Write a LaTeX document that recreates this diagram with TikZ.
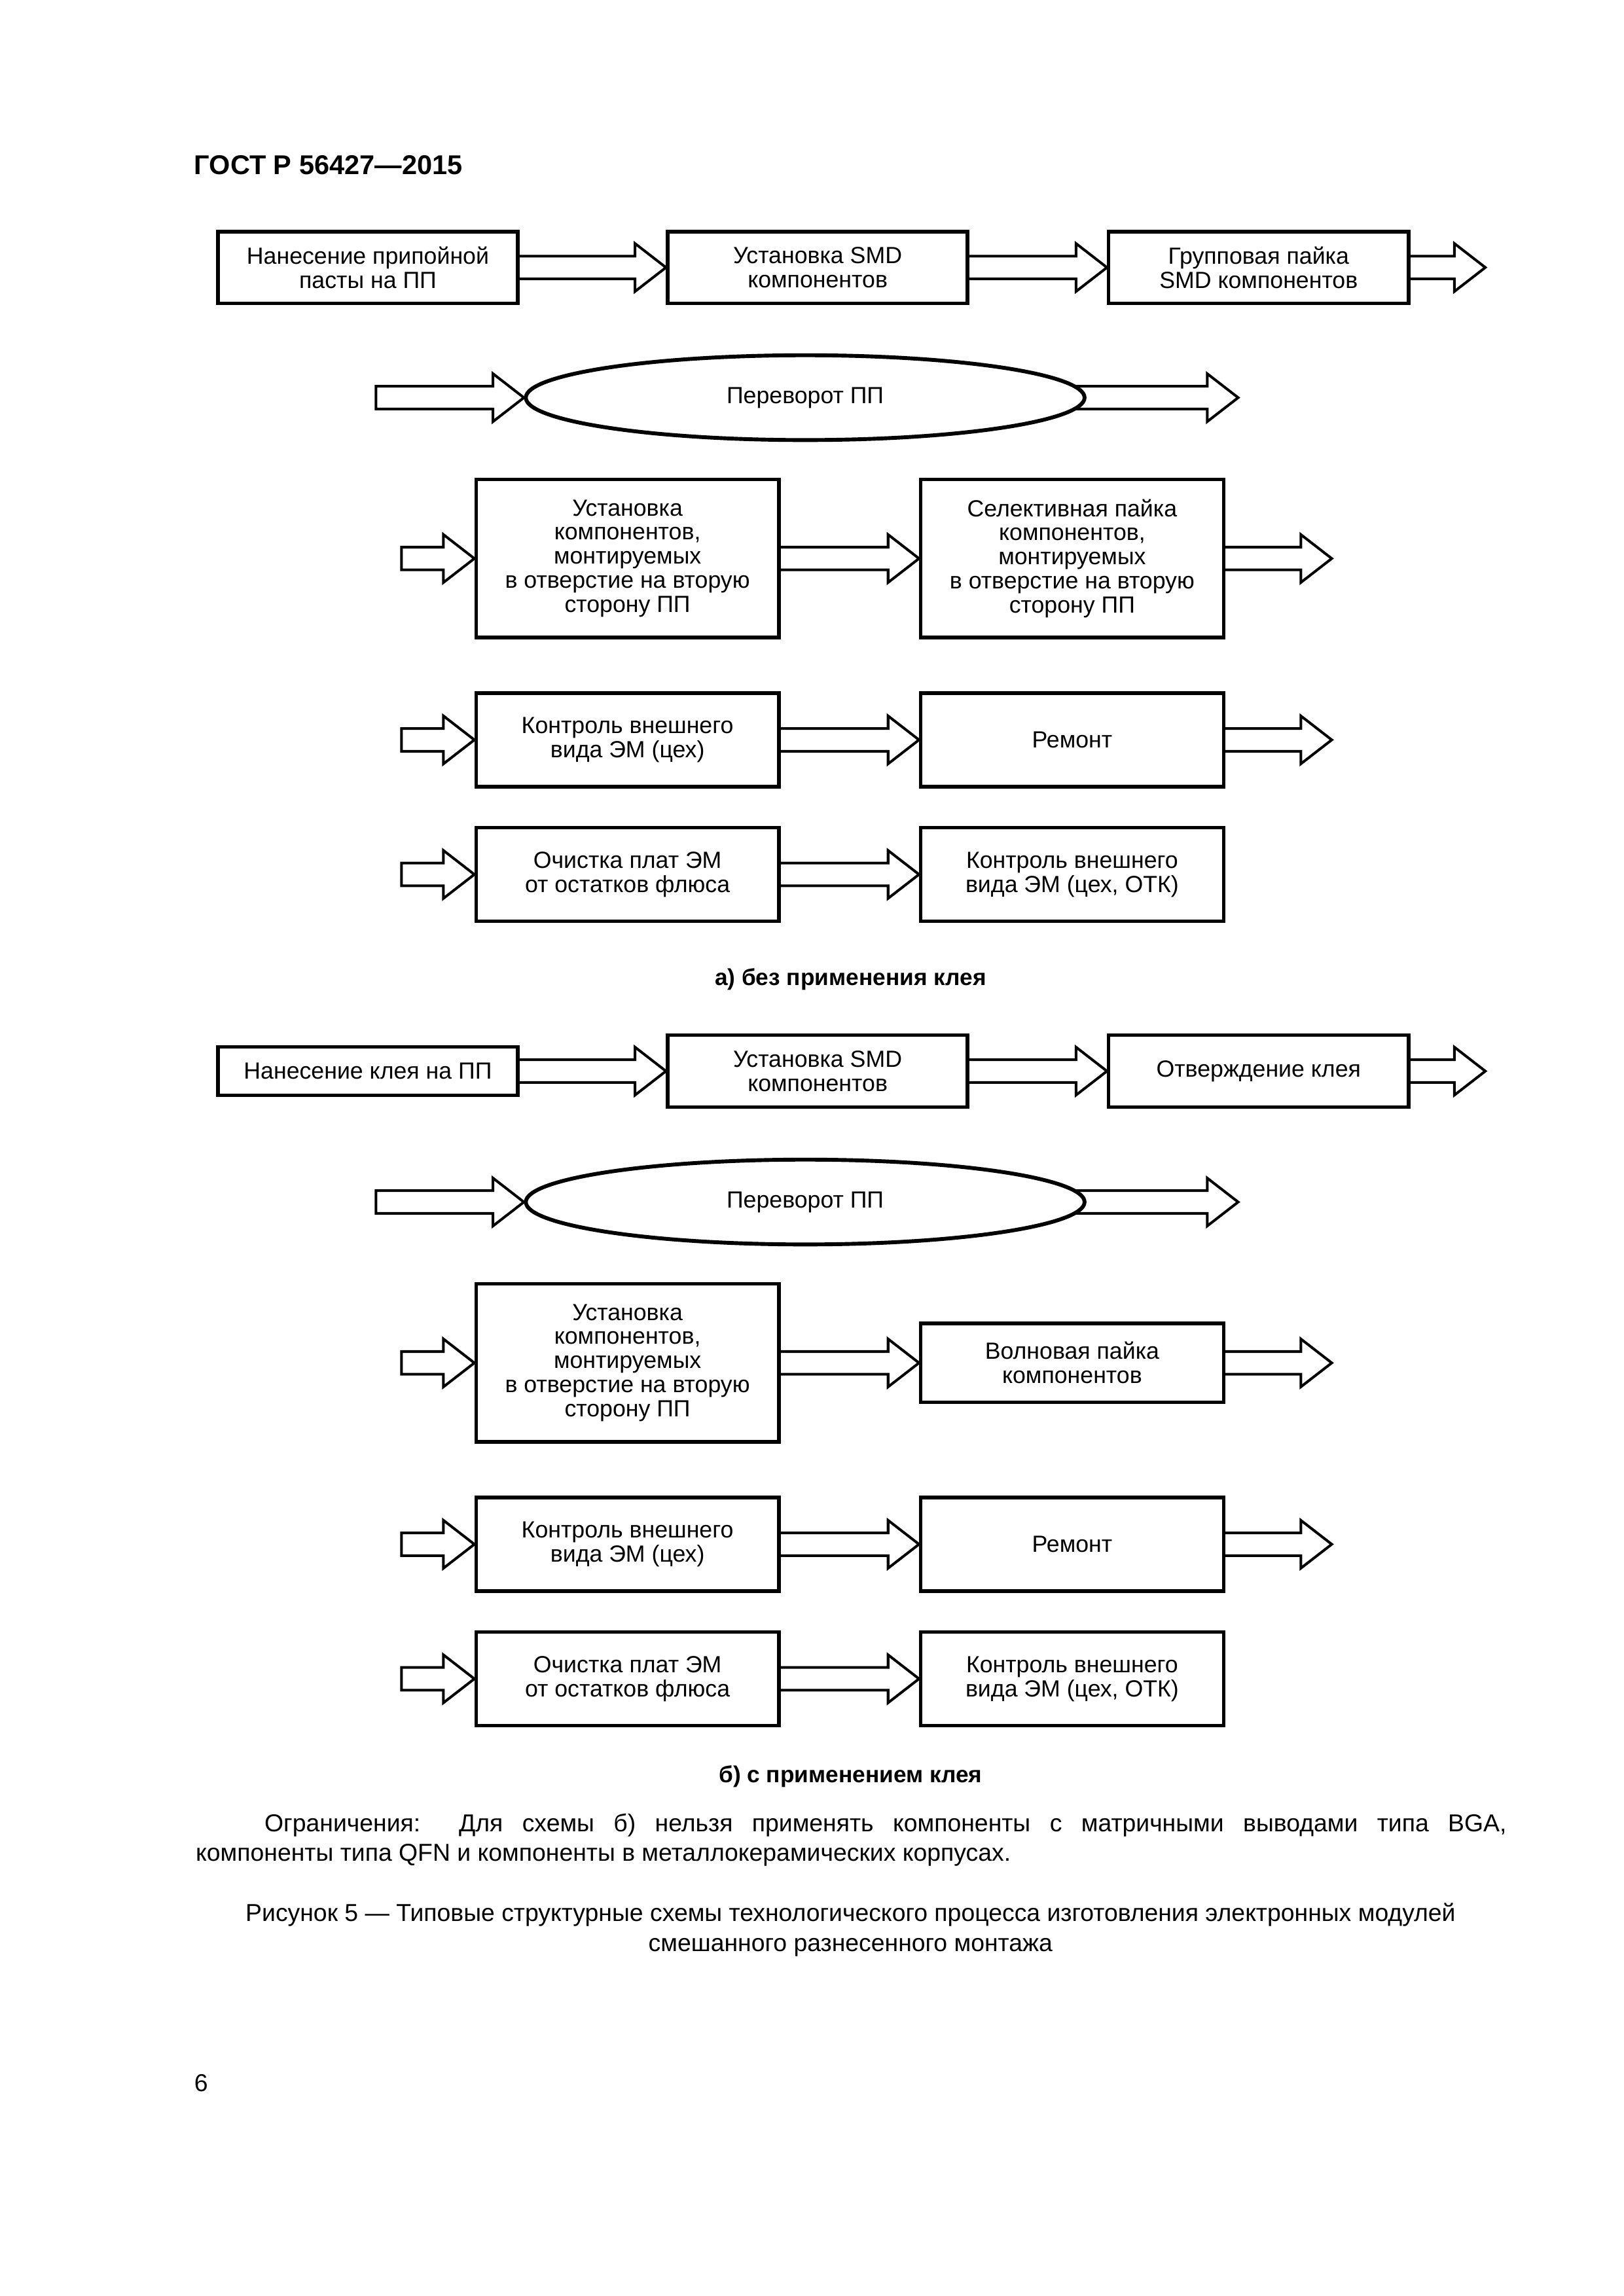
\documentclass[tikz,border=0pt]{standalone}
\usepackage{fontspec}
\setmainfont{Liberation Sans}
\usetikzlibrary{shapes.geometric,calc,backgrounds}
\newcommand{\boxfont}{\fontsize{8.6}{8.9}\selectfont}
\newcommand{\blockarr}[2]{\draw[arrowline] let \p1=(#1), \p2=(#2) in
  (\x1,\y1+1.47mm) -- (\x2-4mm,\y1+1.47mm) -- (\x2-4mm,\y1+3.1mm) -- (\x2,\y1)
  -- (\x2-4mm,\y1-3.1mm) -- (\x2-4mm,\y1-1.47mm) -- (\x1,\y1-1.47mm) -- cycle;}
\begin{document}
\begin{tikzpicture}[
  box/.style 2 args={draw, line width=0.45mm, fill=white, inner sep=0pt, align=center,
    minimum width={#1*0.18921mm}, minimum height={#2*0.18921mm}, font=\boxfont},
  oval/.style={ellipse, draw, line width=0.5mm, fill=white, inner sep=0pt,
    minimum width={382*0.18921mm}, minimum height={58*0.18921mm}, font=\boxfont},
  arrowline/.style={draw, line width=0.34mm, line join=miter},
  txt/.style={inner sep=0pt, font=\fontsize{9}{10.8}\selectfont},
  captxt/.style={inner sep=0pt, font=\fontsize{8.5}{10}\selectfont\bfseries}]
\useasboundingbox (0,0) rectangle (210mm,-297.04mm);
\begin{scope}[x=0.18921mm,y=-0.18921mm,shift={(0.5,0.9)}]

\node[inner sep=0pt, anchor=base west, font=\fontsize{10}{12}\selectfont\bfseries] (hdr) at (132,118.4) {ГОСТ Р 56427—2015};

% ---------- a) ----------
\node[box={205}{49}] (a1) at (251,182) {Нанесение припойной\\пасты на ПП};
\node[box={205}{49}] (a2) at (558.5,182) {Установка SMD\\компонентов};
\node[box={205}{49}] (a3) at (860,182) {Групповая пайка\\SMD компонентов};
\coordinate (a3o) at (1015,182);
\node[oval] (ae) at (550,271) {Переворот ПП};
\coordinate (aei) at (256.5,271);
\coordinate (aeo) at (846,271);
\node[box={207}{108}] (a4) at (428.5,381) {Установка\\компонентов,\\монтируемых\\в отверстие на вторую\\сторону ПП};
\node[box={207}{108}] (a5) at (732.5,381) {Селективная пайка\\компонентов,\\монтируемых\\в отверстие на вторую\\сторону ПП};
\coordinate (a4i) at (274,381);
\coordinate (a5o) at (910,381);
\node[box={207}{64}] (a6) at (428.5,505) {Контроль внешнего\\вида ЭМ (цех)};
\node[box={207}{64}] (a7) at (732.5,505) {Ремонт};
\coordinate (a6i) at (274,505);
\coordinate (a7o) at (910,505);
\node[box={207}{64}] (a8) at (428.5,597) {Очистка плат ЭМ\\от остатков флюса};
\node[box={207}{64}] (a9) at (732.5,597) {Контроль внешнего\\вида ЭМ (цех, ОТК)};
\coordinate (a8i) at (274,597);
\node[captxt, anchor=base] (capa) at (581,673) {а) без применения клея};

% ---------- b) ----------
\node[box={205}{33}] (b1) at (251,731.5) {Нанесение клея на ПП};
\node[box={205}{49}] (b2) at (558.5,731.5) {Установка SMD\\компонентов};
\node[box={205}{49}] (b3) at (860,731.5) {Отверждение клея};
\coordinate (b3o) at (1015,731.5);
\node[oval] (be) at (550,821) {Переворот ПП};
\coordinate (bei) at (256.5,821);
\coordinate (beo) at (846,821);
\node[box={207}{108}] (b4) at (428.5,931) {Установка\\компонентов,\\монтируемых\\в отверстие на вторую\\сторону ПП};
\node[box={207}{54}] (b5) at (732.5,931) {Волновая пайка\\компонентов};
\coordinate (b4i) at (274,931);
\coordinate (b5o) at (910,931);
\node[box={207}{64}] (b6) at (428.5,1055) {Контроль внешнего\\вида ЭМ (цех)};
\node[box={207}{64}] (b7) at (732.5,1055) {Ремонт};
\coordinate (b6i) at (274,1055);
\coordinate (b7o) at (910,1055);
\node[box={207}{64}] (b8) at (428.5,1147) {Очистка плат ЭМ\\от остатков флюса};
\node[box={207}{64}] (b9) at (732.5,1147) {Контроль внешнего\\вида ЭМ (цех, ОТК)};
\coordinate (b8i) at (274,1147);
\node[captxt, anchor=base] (capb) at (581,1218) {б) с применением клея};

% ---------- arrows ----------
\begin{pgfonlayer}{background}
\blockarr{a1.center}{a2.west}
\blockarr{a2.center}{a3.west}
\blockarr{a3.center}{a3o}
\blockarr{aei}{ae.west}
\blockarr{ae.center}{aeo}
\blockarr{a4i}{a4.west}
\blockarr{a4.center}{a5.west}
\blockarr{a5.center}{a5o}
\blockarr{a6i}{a6.west}
\blockarr{a6.center}{a7.west}
\blockarr{a7.center}{a7o}
\blockarr{a8i}{a8.west}
\blockarr{a8.center}{a9.west}
\blockarr{b1.center}{b2.west}
\blockarr{b2.center}{b3.west}
\blockarr{b3.center}{b3o}
\blockarr{bei}{be.west}
\blockarr{be.center}{beo}
\blockarr{b4i}{b4.west}
\blockarr{b4.center}{b5.west}
\blockarr{b5.center}{b5o}
\blockarr{b6i}{b6.west}
\blockarr{b6.center}{b7.west}
\blockarr{b7.center}{b7o}
\blockarr{b8i}{b8.west}
\blockarr{b8.center}{b9.west}
\end{pgfonlayer}

% ---------- notes ----------
\node[txt, anchor=base west] (n1) at (180,1251.4) {\makebox[160.64mm][s]{Ограничения:\ \ Для схемы б) нельзя применять компоненты с матричными выводами типа BGA,}};
\node[txt, anchor=base west] (n2) at (133,1271.6) {компоненты типа QFN и компоненты в металлокерамических корпусах.};
\node[txt, anchor=base] (f1) at (581,1313) {Рисунок 5 — Типовые структурные схемы технологического процесса изготовления электронных модулей};
\node[txt, anchor=base] (f2) at (581,1333.2) {смешанного разнесенного монтажа};
\node[txt, anchor=base west] (pg) at (132,1429) {6};
\end{scope}
\end{tikzpicture}
\end{document}
